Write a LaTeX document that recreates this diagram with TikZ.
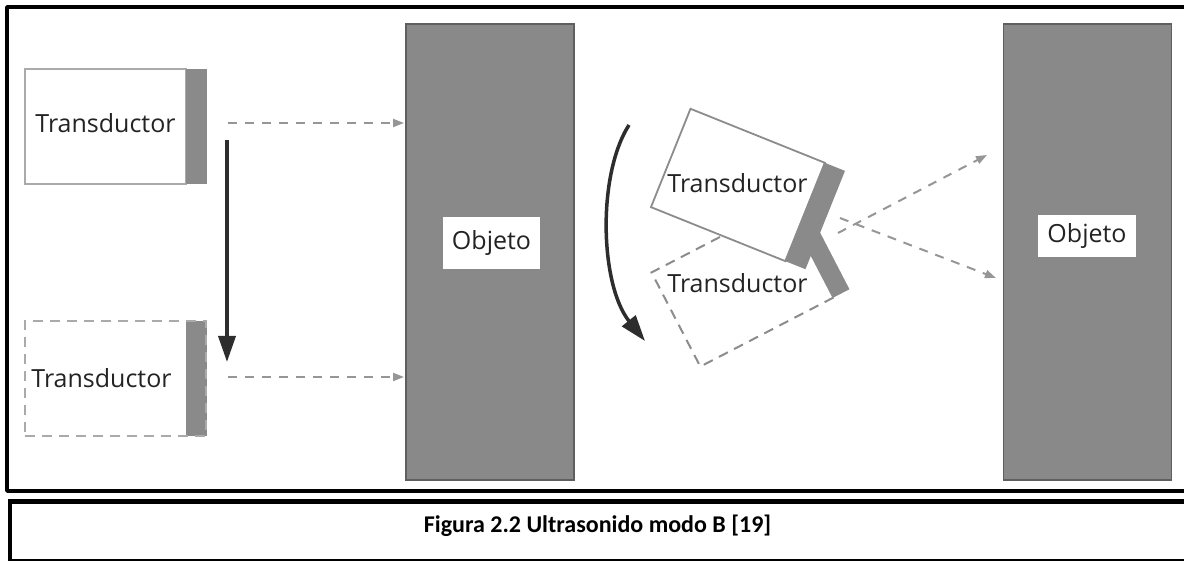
\documentclass[tikz,border=0pt]{standalone}
\usepackage{fontspec}
\setmainfont{Open Sans}
\newfontfamily\capfont{Carlito}
\usetikzlibrary{arrows.meta}

\definecolor{objgray}{RGB}{137,137,137}
\definecolor{objedge}{RGB}{95,95,95}
\definecolor{bargray}{RGB}{138,138,138}
\definecolor{boxedge}{RGB}{170,170,170}
\definecolor{rotedge}{RGB}{140,140,140}
\definecolor{raygray}{RGB}{150,150,150}
\definecolor{motion}{RGB}{45,45,45}
\definecolor{ink}{RGB}{35,35,35}

\tikzset{
  objbox/.style={draw=objedge, line width=1.5pt, fill=objgray, inner sep=0pt, outer sep=0pt,
                 minimum width=168pt, minimum height=456pt},
  objlabel/.style={fill=white, inner sep=0pt, text=ink, font=\fontsize{25}{30}\selectfont},
  tlabel/.style={anchor=base, inner sep=0pt, text=ink, font=\fontsize{25}{30}\selectfont},
  housing/.style={draw=boxedge, line width=2pt, fill=white, inner sep=0pt, outer sep=0pt},
  ghost/.style={draw=boxedge, line width=2pt, dash pattern=on 10pt off 7pt, inner sep=0pt, outer sep=0pt},
  face/.style={fill=bargray, draw=none, inner sep=0pt, outer sep=0pt},
  ray/.style={draw=raygray, line width=2pt, dash pattern=on 9pt off 8pt,
              -{Triangle[length=11pt,width=8pt]}},
  move/.style={draw=motion, line width=3.5pt, -{Triangle[length=26pt,width=17pt]}},
}

\begin{document}
\begin{tikzpicture}[x=1pt, y=-1pt]
\useasboundingbox (0,0) rectangle (1184,561);
\clip (0,0) rectangle (1184,561);

% outer frames
\draw[line width=3.8pt, line join=round] (1195,7) -- (7,7) -- (7,491) -- (1195,491);
\draw[line width=5.5pt] (8,501.5) -- (1195,501.5);
\draw[line width=4pt] (10,499) -- (10,570);
\draw[line width=1.5pt] (10,560) -- (1195,560);

% objects
\node[objbox] (obj1) at (490,252) {};
\node[objbox] (obj2) at (1087.5,252) {};
\node[objlabel, minimum width=97pt, minimum height=52pt] (obj1lbl) at (491.5,243) {Objeto};
\node[objlabel, minimum width=98pt, minimum height=42pt] (obj2lbl) at (1087,236.5) {Objeto};

% linear scan: transducer in two positions
\node[housing, minimum width=161pt, minimum height=115pt] (t1) at (105.5,126.5) {};
\node[face, minimum width=21pt, minimum height=115pt] (t1face) at (196.5,126.5) {};
\node[tlabel] (t1lbl) at (105.5,133) {Transductor};

\node[face, minimum width=21pt, minimum height=115pt] (t2face) at (196.5,378.5) {};
\node[ghost, minimum width=181pt, minimum height=115pt] (t2) at (115.5,378.5) {};
\node[tlabel] (t2lbl) at (101.5,388) {Transductor};

\coordinate (m1a) at (227,140);
\coordinate (m1b) at (227,362);
\draw[move] (m1a) -- (m1b);

\coordinate (s1) at (228,123);
\coordinate (s2) at (228,377);
\draw[ray, shorten >=2pt] (s1) -- (s1 -| obj1.west);
\draw[ray, shorten >=2pt] (s2) -- (s2 -| obj1.west);

% sector scan: transducer tilted in two positions
\begin{scope}[shift={(742.5,285)}, rotate=27.4]
  \fill[bargray] (74,-53) rectangle (93,53);
  \draw[draw=rotedge, line width=2pt, dash pattern=on 10pt off 7pt] (75,53) -- (-75,53) -- (-75,-53) -- (75,-53);
\end{scope}
\begin{scope}[shift={(738,185)}, rotate=-21.9]
  \draw[draw=rotedge, line width=1.8pt, fill=white] (-72.5,-53) rectangle (72.5,53);
  \fill[bargray] (71.5,-53) rectangle (94,53);
\end{scope}
\node[tlabel] (t3lbl) at (737.5,193) {Transductor};
\node[tlabel] (t4lbl) at (737.5,293) {Transductor};

\coordinate (m2a) at (629,125);
\coordinate (m2b) at (645,341);
\draw[move] (m2a) .. controls (597,175) and (600,285) .. (m2b);

\coordinate (q1) at (838,233);
\coordinate (q1e) at (987,155);
\coordinate (q2) at (840,218);
\coordinate (q2e) at (996,278);
\draw[ray] (q1) -- (q1e);
\draw[ray] (q2) -- (q2e);

% caption
\node[anchor=base, inner sep=0pt, font=\capfont\bfseries\fontsize{24}{28}\selectfont] (cap) at (597.5,532)
  {Figura 2.2 Ultrasonido modo B [19]};
\end{tikzpicture}
\end{document}
